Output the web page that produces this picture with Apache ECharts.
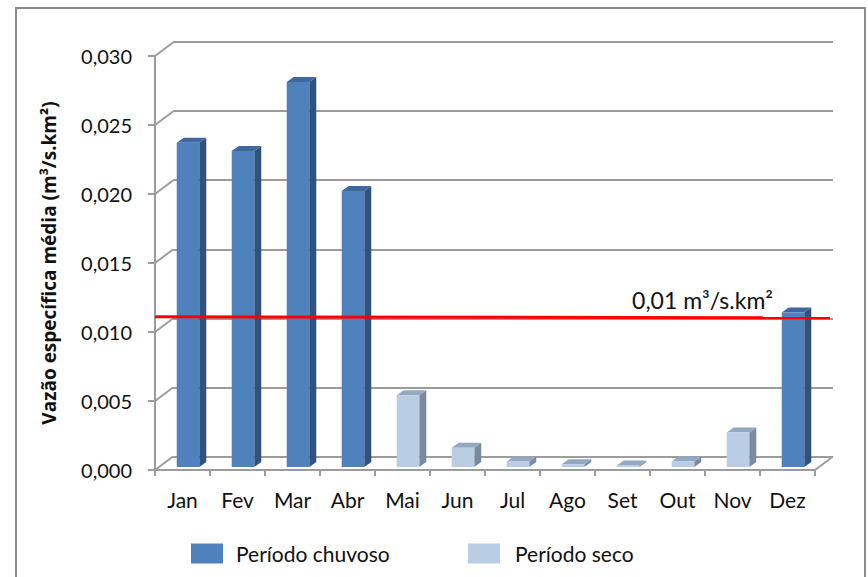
<!DOCTYPE html>
<html>
<head>
<meta charset="utf-8">
<script src="https://cdn.jsdelivr.net/npm/echarts@6/dist/echarts.min.js"></script>
<style>
  html, body { margin: 0; padding: 0; background: #ffffff; }
  #chart { width: 868px; height: 577px; }
</style>
</head>
<body>
<div id="chart"></div>
<script>
// Monthly mean specific discharge (m³/s.km²), split by season
const months = ['Jan', 'Fev', 'Mar', 'Abr', 'Mai', 'Jun', 'Jul', 'Ago', 'Set', 'Out', 'Nov', 'Dez'];
const rainyValues = [0.0235, 0.0229, 0.0279, 0.0200, null, null, null, null, null, null, null, 0.0112];
const dryValues = [null, null, null, null, 0.0052, 0.0014, 0.0004, 0.0002, 0.0001, 0.0004, 0.0025, null];
const rainyName = 'Período chuvoso';
const dryName = 'Período seco';

const yTicks = [0, 0.005, 0.010, 0.015, 0.020, 0.025, 0.030];
const yTickLabels = ['0,000', '0,005', '0,010', '0,015', '0,020', '0,025', '0,030'];
const yTitle = 'Vazão específica média (m³/s.km²)';

const thresholdValue = 0.01;
const thresholdLabel = '0,01 m³/s.km²';

// Oblique depth of the plot box (front plane -> back wall), in pixels
const DEPTH_X = 18;
const DEPTH_Y = 13.5;
// Bars sit slightly behind the front plane
const BAR_SHIFT_X = 5.5;
const BAR_SHIFT_Y = -3;
const BAR_DEPTH_X = 7;
const BAR_DEPTH_Y = 5;

const FONT = 'Lato, "Open Sans", sans-serif';
const TITLE_FONT = '"Open Sans", Lato, sans-serif';
const GRID_COLOR = '#9c9c9c';
const TEXT_COLOR = '#111111';

const toPairs = (arr) => arr.map((v, i) => [i, v]).filter(p => p[1] !== null);

function barRenderer(front, side, top) {
  return function (params, api) {
    const idx = api.value(0);
    const v = api.value(1);
    const base = api.coord([idx, 0]);
    const head = api.coord([idx, v]);
    const band = api.size([1, 0])[0];
    const w = band * 0.41;
    const cx = base[0] + BAR_SHIFT_X;
    const x0 = cx - w / 2, x1 = cx + w / 2;
    const yb = base[1] + BAR_SHIFT_Y;
    const yt = head[1] + BAR_SHIFT_Y;
    return {
      type: 'group',
      children: [
        { type: 'polygon', shape: { points: [[x1, yb], [x1 + BAR_DEPTH_X, yb - BAR_DEPTH_Y], [x1 + BAR_DEPTH_X, yt - BAR_DEPTH_Y], [x1, yt]] }, style: { fill: side } },
        { type: 'polygon', shape: { points: [[x0, yt], [x1, yt], [x1 + BAR_DEPTH_X, yt - BAR_DEPTH_Y], [x0 + BAR_DEPTH_X, yt - BAR_DEPTH_Y]] }, style: { fill: top } },
        { type: 'rect', shape: { x: x0, y: yt, width: w, height: yb - yt }, style: { fill: front } }
      ]
    };
  };
}

const chart = echarts.init(document.getElementById('chart'), null, { renderer: 'svg' });

chart.setOption({
  animation: false,
  backgroundColor: '#ffffff',
  textStyle: { fontFamily: FONT },
  graphic: [
    { type: 'rect', shape: { x: 16, y: 8, width: 849, height: 600 }, style: { fill: null, stroke: '#8a8a8a', lineWidth: 2 }, silent: true, z: -10 }
  ],
  legend: [
    {
      data: [rainyName], left: 186, top: 538, icon: 'rect', itemWidth: 32, itemHeight: 20,
      textStyle: { fontFamily: FONT, fontSize: 21, color: TEXT_COLOR, padding: [0, 0, 0, 8] }
    },
    {
      data: [dryName], left: 463, top: 538, icon: 'rect', itemWidth: 32, itemHeight: 20,
      textStyle: { fontFamily: FONT, fontSize: 21, color: TEXT_COLOR, padding: [0, 0, 0, 10] }
    }
  ],
  grid: [
    // back wall
    { left: 173, right: 35, top: 42, bottom: 120.5 },
    // front plane
    { left: 155, right: 53, top: 56, bottom: 107 }
  ],
  xAxis: [
    { type: 'category', gridIndex: 0, data: months, show: false },
    {
      type: 'category', gridIndex: 1, data: months,
      axisLine: { lineStyle: { color: GRID_COLOR, width: 2 } },
      axisTick: { show: true, length: 6, lineStyle: { color: GRID_COLOR, width: 2 } },
      axisLabel: { fontFamily: FONT, fontSize: 21, color: TEXT_COLOR, margin: 19 }
    }
  ],
  yAxis: [
    {
      type: 'value', gridIndex: 0, min: 0, max: 0.03, interval: 0.005,
      axisLine: { show: false }, axisTick: { show: false }, axisLabel: { show: false },
      splitLine: { show: true, lineStyle: { color: GRID_COLOR, width: 2 } }
    },
    {
      type: 'value', gridIndex: 1, min: 0, max: 0.03, interval: 0.005,
      name: yTitle, nameLocation: 'middle', nameRotate: 90, nameGap: 97,
      nameTextStyle: { fontFamily: TITLE_FONT, fontSize: 19, fontWeight: 'bold', color: TEXT_COLOR },
      axisLine: { show: true, lineStyle: { color: GRID_COLOR, width: 2 } },
      axisTick: { show: true, length: 7, lineStyle: { color: GRID_COLOR, width: 2 } },
      splitLine: { show: false },
      axisLabel: {
        fontFamily: FONT, fontSize: 20, color: TEXT_COLOR, margin: 23,
        formatter: (v) => yTickLabels[yTicks.findIndex(t => Math.abs(t - v) < 1e-9)]
      }
    }
  ],
  series: [
    {
      // side-wall and floor edges joining the front plane to the back wall
      type: 'custom', name: 'walls', xAxisIndex: 1, yAxisIndex: 1, silent: true, z: 1,
      data: [[0, 0]],
      renderItem: function (params, api) {
        const cs = params.coordSys;
        const children = yTicks.map(t => {
          const y = api.coord([0, t])[1];
          return { type: 'line', shape: { x1: cs.x, y1: y, x2: cs.x + DEPTH_X, y2: y - DEPTH_Y }, style: { stroke: GRID_COLOR, lineWidth: 2 } };
        });
        const y0 = api.coord([0, 0])[1];
        children.push({ type: 'line', shape: { x1: cs.x + cs.width, y1: y0, x2: cs.x + cs.width + DEPTH_X, y2: y0 - DEPTH_Y }, style: { stroke: GRID_COLOR, lineWidth: 2 } });
        return { type: 'group', children };
      }
    },
    {
      type: 'custom', name: rainyName, xAxisIndex: 1, yAxisIndex: 1, z: 3,
      itemStyle: { color: '#4f81bd' },
      data: toPairs(rainyValues),
      renderItem: barRenderer('#4f81bd', '#32527a', '#3d69a0')
    },
    {
      type: 'custom', name: dryName, xAxisIndex: 1, yAxisIndex: 1, z: 3,
      itemStyle: { color: '#b9cde5' },
      data: toPairs(dryValues),
      renderItem: barRenderer('#b9cde5', '#7b8b9e', '#93a8c2')
    },
    {
      // threshold line drawn on the back wall
      type: 'custom', name: 'threshold', xAxisIndex: 0, yAxisIndex: 0, silent: true, z: 5,
      data: [[0, thresholdValue]],
      renderItem: function (params, api) {
        const cs = params.coordSys;
        const y = api.coord([0, api.value(1)])[1] + 1.5;
        return {
          type: 'group',
          children: [
            { type: 'line', shape: { x1: cs.x - DEPTH_X, y1: y - 3, x2: cs.x + cs.width - 3, y2: y - 2 }, style: { stroke: '#ff0000', lineWidth: 3 } },
            { type: 'text', x: cs.x + cs.width - 60, y: y - 8, style: { text: thresholdLabel, fill: TEXT_COLOR, fontFamily: FONT, fontSize: 23, align: 'right', verticalAlign: 'bottom' } }
          ]
        };
      }
    }
  ]
});
</script>
</body>
</html>
